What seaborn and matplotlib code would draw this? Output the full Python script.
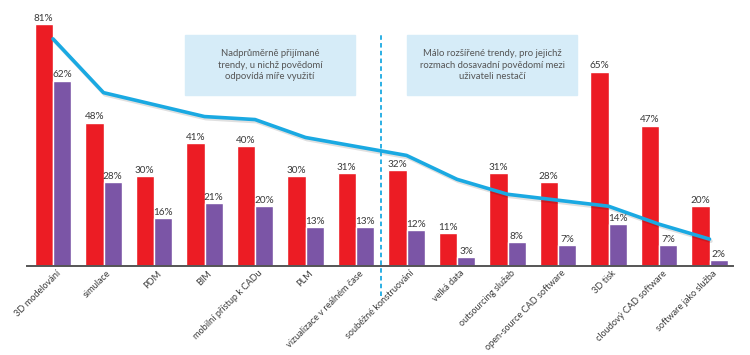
import pandas as pd
import matplotlib
matplotlib.use("Agg")
import matplotlib.pyplot as plt
import matplotlib.patheffects as pe
import matplotlib.transforms as mtransforms
import seaborn as sns

# data
categories = ["3D modelování", "simulace", "PDM", "BIM", "mobilní přístup k CADu",
              "PLM", "vizualizace v reálném čase", "souběžné konstruování",
              "velká data", "outsourcing služeb", "open-source CAD software",
              "3D tisk", "cloudový CAD software", "software jako služba"]
red_vals = [81, 48, 30, 41, 40, 30, 31, 32, 11, 31, 28, 65, 47, 20]
purple_vals = [62, 28, 16, 21, 20, 13, 13, 12, 3, 8, 7, 14, 7, 2]
line_vals = [76, 58, 54, 50, 49, 43, 40, 37, 29, 24, 22, 20, 14, 9]
box_left = "Nadprůměrně přijímané\ntrendy, u nichž povědomí\nodpovídá míře využití"
box_right = "Málo rozšířené trendy, pro jejichž\nrozmach dosavadní povědomí mezi\nuživateli nestačí"

sns.set_style("white")
plt.rcParams['font.family'] = ['Lato', 'DejaVu Sans']

RED = "#ec1c24"
PURPLE = "#7b55a6"
BLUE = "#1aa9e2"
TXT = "#3a3a3a"

df = pd.DataFrame({
    "kat": categories * 2,
    "serie": ["a"] * len(categories) + ["b"] * len(categories),
    "hodnota": red_vals + purple_vals,
})

fig = plt.figure(figsize=(7.5, 3.55), dpi=100)
ax = fig.add_axes([27 / 750, 89 / 355, 706 / 750, 266 / 355])

sns.barplot(data=df, x="kat", y="hodnota", hue="serie", order=categories,
            palette=[RED, PURPLE], width=0.73, saturation=1, legend=False, ax=ax)

# value labels
for cont in ax.containers:
    ax.bar_label(cont, fmt="%d%%", fontsize=7.2, color=TXT, padding=1)

# blue line with a soft shadow
sns.lineplot(x=list(range(len(categories))), y=line_vals, color=BLUE, lw=2.6, ax=ax,
             path_effects=[pe.SimpleLineShadow(offset=(1, -1.5), alpha=0.12, shadow_color="black"),
                           pe.Normal()])

ax.set_xlim(-0.515, 13.465)
ax.set_ylim(0, 89)

# dashed divider
ax.plot([6.5, 6.5], [-10, 78], color=BLUE, lw=1.3, ls=(0, (2.5, 1.8)), clip_on=False)

# annotation boxes
for txt, x0 in [(box_left, 185), (box_right, 407)]:
    fig.patches.append(plt.Rectangle((x0 / 750, (355 - 95) / 355), 170 / 750, 60 / 355,
                                     transform=fig.transFigure, color="#d6ecf8", zorder=0))
    fig.text((x0 + 85) / 750, (355 - 65) / 355, txt, ha="center", va="center",
             fontsize=6.8, color="#555555", linespacing=1.4)

for s in ["top", "right", "left"]:
    ax.spines[s].set_visible(False)
ax.spines["bottom"].set_color("#555555")
ax.spines["bottom"].set_linewidth(1.4)
ax.set_yticks([])
ax.set_xlabel("")
ax.set_ylabel("")
ax.tick_params(axis="x", length=0, pad=2)
ax.set_xticks(range(len(categories)))
ax.set_xticklabels(categories, rotation=45, ha="right", rotation_mode="anchor",
                   fontsize=6.6, color=TXT)
# nudge labels a bit to the right, like in the original
shift = mtransforms.ScaledTranslation(3 / 100, 0, fig.dpi_scale_trans)
for lab in ax.get_xticklabels():
    lab.set_transform(lab.get_transform() + shift)

fig.savefig("out.png", dpi=100)
